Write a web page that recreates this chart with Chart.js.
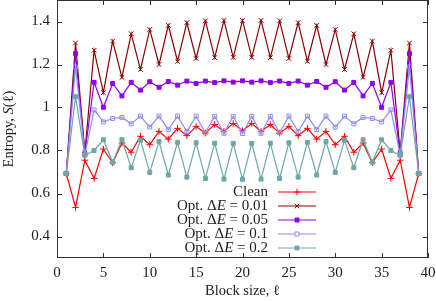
<!DOCTYPE html>
<html>
<head>
<meta charset="utf-8">
<script src="https://cdn.jsdelivr.net/npm/chart.js@4"></script>
<style>
  html, body { margin: 0; padding: 0; background: #fff; }
  #wrap { width: 436px; height: 301px; }
</style>
</head>
<body>
<div id="wrap"><canvas id="entropyChart" width="436" height="301"></canvas></div>
<script>
// block sizes
var blockSize = [1,2,3,4,5,6,7,8,9,10,11,12,13,14,15,16,17,18,19,20,
                 21,22,23,24,25,26,27,28,29,30,31,32,33,34,35,36,37,38,39];

// entropy values
var clean = [0.693,0.535,0.755,0.670,0.807,0.743,0.835,0.792,0.866,0.827,0.889,0.853,0.903,0.869,0.912,0.881,0.921,0.889,0.926,0.892,
             0.926,0.889,0.921,0.881,0.912,0.869,0.903,0.853,0.889,0.827,0.866,0.792,0.835,0.743,0.807,0.670,0.755,0.535,0.693];
var opt001 = [0.693,1.300,0.790,1.266,1.069,1.309,1.140,1.343,1.177,1.363,1.200,1.382,1.215,1.395,1.228,1.403,1.232,1.405,1.233,1.405,
              1.233,1.405,1.232,1.403,1.228,1.395,1.215,1.382,1.200,1.363,1.177,1.343,1.140,1.309,1.069,1.266,0.790,1.300,0.693];
var opt005 = [0.693,1.251,0.785,1.117,1.001,1.112,1.054,1.117,1.081,1.120,1.094,1.121,1.104,1.123,1.112,1.123,1.116,1.124,1.118,1.124,
              1.118,1.124,1.116,1.123,1.112,1.123,1.104,1.121,1.094,1.120,1.081,1.117,1.054,1.112,1.001,1.117,0.785,1.251,0.693];
var opt01 = [0.693,1.189,0.780,0.989,0.933,0.949,0.954,0.924,0.960,0.909,0.960,0.897,0.960,0.888,0.960,0.882,0.959,0.880,0.959,0.879,
             0.959,0.880,0.959,0.882,0.960,0.888,0.960,0.897,0.960,0.909,0.960,0.924,0.954,0.949,0.933,0.989,0.780,1.189,0.693];
var opt02 = [0.693,1.050,0.778,0.800,0.850,0.745,0.850,0.720,0.848,0.698,0.842,0.686,0.838,0.676,0.836,0.670,0.834,0.667,0.833,0.666,
             0.833,0.667,0.834,0.670,0.836,0.676,0.838,0.686,0.842,0.698,0.848,0.720,0.850,0.745,0.850,0.800,0.778,1.050,0.693];

// ticks
var xTicks = [0,5,10,15,20,25,30,35,40];
var yTicks = [0.4,0.6,0.8,1,1.2,1.4];

var serif = '"Liberation Serif", "DejaVu Serif", serif';

function pts(vals) {
  return blockSize.map(function (l, i) { return {x: l, y: vals[i]}; });
}

// label pieces: [text, italic]
var seriesInfo = [
  {label: [['Clean', false]], data: clean, color: '#ff0000', style: 'cross', fill: false, order: 4},
  {label: [['Opt. \u0394', false], ['E', true], [' = 0.01', false]], data: opt001, color: '#8b0000', style: 'crossRot', fill: false, order: 3},
  {label: [['Opt. \u0394', false], ['E', true], [' = 0.05', false]], data: opt005, color: '#9000f0', style: 'rect', fill: true, order: 2},
  {label: [['Opt. \u0394', false], ['E', true], [' = 0.1', false]], data: opt01, color: '#8c8cf5', style: 'rect', fill: false, order: 1},
  {label: [['Opt. \u0394', false], ['E', true], [' = 0.2', false]], data: opt02, color: '#6ea6a6', style: 'rect', fill: true, order: 0}
];

function markerSize(s) { return s.style == 'rect' ? 2.8 : 3.3; }

var datasets = seriesInfo.map(function (s) {
  return {
    label: s.label.map(function (p) { return p[0]; }).join(''),
    data: pts(s.data),
    borderColor: s.color,
    backgroundColor: s.fill ? s.color : '#ffffff',
    pointBackgroundColor: s.fill ? s.color : 'rgba(255,255,255,0)',
    pointBorderColor: s.color,
    pointStyle: s.style,
    pointRadius: markerSize(s),
    pointBorderWidth: 1,
    borderWidth: 1.2,
    tension: 0,
    order: s.order
  };
});

function richWidth(ctx, parts, size) {
  var w = 0;
  parts.forEach(function (p) {
    ctx.font = (p[1] ? 'italic ' : '') + size + 'px ' + serif;
    w += ctx.measureText(p[0]).width;
  });
  return w;
}

function richText(ctx, parts, x, y, size) {
  parts.forEach(function (p) {
    ctx.font = (p[1] ? 'italic ' : '') + size + 'px ' + serif;
    ctx.fillText(p[0], x, y);
    x += ctx.measureText(p[0]).width;
  });
}

// frame, inward ticks on all sides, axis titles, legend
var framePlugin = {
  id: 'frame',
  afterDatasetsDraw: function (chart) {
    var ctx = chart.ctx, a = chart.chartArea;
    var xs = chart.scales.x, ys = chart.scales.y;
    ctx.save();
    ctx.strokeStyle = '#333';
    ctx.lineWidth = 1;
    ctx.strokeRect(Math.round(a.left) + 0.5, Math.round(a.top) + 0.5,
                   Math.round(a.right - a.left) - 1, Math.round(a.bottom - a.top) - 1);
    ctx.beginPath();
    xTicks.forEach(function (v) {
      var px = Math.round(xs.getPixelForValue(v)) + 0.5;
      ctx.moveTo(px, a.bottom); ctx.lineTo(px, a.bottom - 5);
      ctx.moveTo(px, a.top); ctx.lineTo(px, a.top + 5);
    });
    yTicks.forEach(function (v) {
      var py = Math.round(ys.getPixelForValue(v)) + 0.5;
      ctx.moveTo(a.left, py); ctx.lineTo(a.left + 5, py);
      ctx.moveTo(a.right, py); ctx.lineTo(a.right - 5, py);
    });
    ctx.stroke();

    // axis titles
    ctx.fillStyle = '#222';
    ctx.textBaseline = 'middle';
    var t1 = [['Block size, ', false], ['\u2113', false]];
    var w1 = richWidth(ctx, t1, 14.5);
    richText(ctx, t1, (a.left + a.right) / 2 - w1 / 2, 291, 14.5);

    ctx.save();
    ctx.translate(9, (a.top + a.bottom) / 2);
    ctx.rotate(-Math.PI / 2);
    var t2 = [['Entropy, ', false], ['S', true], ['(\u2113)', false]];
    var w2 = richWidth(ctx, t2, 14.5);
    richText(ctx, t2, -w2 / 2, 0, 14.5);
    ctx.restore();

    // legend
    var rowY = [192, 206, 220, 234, 248];
    seriesInfo.forEach(function (s, i) {
      var y = rowY[i];
      var w = richWidth(ctx, s.label, 15);
      ctx.fillStyle = '#222';
      richText(ctx, s.label, 268 - w, y, 15);
      ctx.strokeStyle = s.color;
      ctx.lineWidth = 1.2;
      ctx.beginPath();
      ctx.moveTo(278, y); ctx.lineTo(316, y);
      ctx.stroke();
      ctx.lineWidth = 1;
      ctx.fillStyle = s.fill ? s.color : '#ffffff';
      Chart.helpers.drawPoint(ctx, {
        pointStyle: s.style,
        radius: markerSize(s),
        rotation: 0,
        borderWidth: 1
      }, 297, y);
    });
    ctx.restore();
  }
};

var config = {
  type: 'line',
  data: {datasets: datasets},
  options: {
    responsive: false,
    animation: false,
    events: [],
    layout: {autoPadding: false, padding: {top: 0, right: 8, left: 0, bottom: 0}},
    plugins: {legend: {display: false}, tooltip: {enabled: false}},
    scales: {
      x: {
        type: 'linear',
        min: 0, max: 40,
        afterBuildTicks: function (s) { s.ticks = xTicks.map(function (v) { return {value: v}; }); },
        afterFit: function (s) { s.height = 43; s.paddingLeft = 0; s.paddingRight = 0; },
        grid: {display: false, drawTicks: false},
        border: {display: false},
        ticks: {color: '#222', font: {family: serif, size: 15}, padding: 6, maxRotation: 0,
                callback: function (v) { return String(v); }}
      },
      y: {
        type: 'linear',
        min: 0.3, max: 1.5,
        afterBuildTicks: function (s) { s.ticks = yTicks.map(function (v) { return {value: v}; }); },
        afterFit: function (s) { s.width = 57; s.paddingTop = 0; s.paddingBottom = 0; },
        grid: {display: false, drawTicks: false},
        border: {display: false},
        ticks: {color: '#222', font: {family: serif, size: 15}, padding: 7,
                callback: function (v) { return String(v); }}
      }
    }
  },
  plugins: [framePlugin]
};

var chart = new Chart(document.getElementById('entropyChart'), config);
</script>
</body>
</html>
